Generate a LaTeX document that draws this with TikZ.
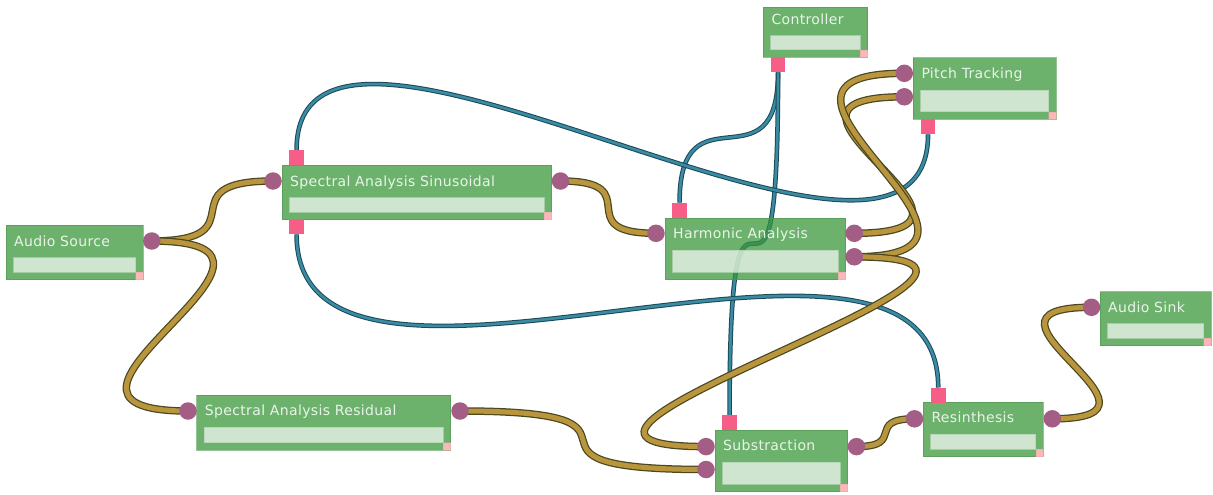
\documentclass[tikz,border=0pt]{standalone}
\usepackage{fontspec}
\newfontfamily\lblfont[LetterSpace=2.5]{DejaVu Sans}
\usetikzlibrary{calc}
\pgfdeclarelayer{bglayer}
\pgfdeclarelayer{wirelayer}
\pgfsetlayers{bglayer,wirelayer,main}
\definecolor{boxc}{RGB}{58,150,58}
\definecolor{boxedge}{RGB}{80,150,80}
\definecolor{baredge}{RGB}{180,212,180}
\definecolor{cornerc}{RGB}{250,184,184}
\definecolor{portc}{RGB}{164,94,133}
\definecolor{pinkc}{RGB}{246,94,135}
\definecolor{goldfill}{RGB}{185,150,62}
\definecolor{goldedge}{RGB}{75,72,32}
\definecolor{bluefill}{RGB}{58,140,165}
\definecolor{blueedge}{RGB}{28,72,86}
\definecolor{titlec}{RGB}{244,250,244}
\tikzset{
  gboxs/.style={rectangle, inner sep=0pt, outer sep=0pt, anchor=north west,
    fill=boxc, fill opacity=0.74, draw=boxedge, draw opacity=0.6, line width=0.8pt},
  barstyle/.style={fill=white, fill opacity=0.68, draw=baredge, draw opacity=0.8, line width=0.8pt},
  cornerstyle/.style={fill=cornerc, draw=cornerc!90!black, draw opacity=0.4, line width=0.5pt},
  titles/.style={font=\lblfont\fontsize{14}{16}\selectfont, text=titlec, text opacity=0.92, inner sep=0pt, anchor=base west},
  port/.style={circle, fill=portc, minimum size=17.5pt, inner sep=0pt, outer sep=0pt},
  cport/.style={rectangle, fill=pinkc, minimum width=14.5pt, minimum height=15pt, inner sep=0pt, outer sep=0pt, anchor=north west},
  goldwire/.style={draw=goldfill, line width=5pt, preaction={draw=goldedge, line width=7.5pt}},
  bluewire/.style={draw=bluefill, line width=2.6pt, preaction={draw=blueedge, line width=4.6pt}},
}
\newcommand\gbox[7]{%
  \node[gboxs, minimum width=#4pt, minimum height=#5pt] (#1) at (#2,#3) {};
  \path[barstyle] ($(#1.north west)+(7.5,#6)$) rectangle ($(#1.south east)+(-7.5,-7.5)$);
  \path[cornerstyle] ($(#1.south east)+(-7.5,-7.5)$) rectangle (#1.south east);
  \node[titles] (#1-t) at ($(#1.north west)+(8,#6-11.5)$) {#7};
}
\begin{document}
\begin{tikzpicture}[x=1pt,y=-1pt]
\useasboundingbox (0,0) rectangle (1213,495);
\begin{pgfonlayer}{bglayer}
\fill[white] (0,0) rectangle (1213,495);
\end{pgfonlayer}

% boxes
\gbox{as}{6}{225}{137}{54.5}{32.5}{Audio Source}
\gbox{sas}{282}{165}{269.5}{54.5}{32.5}{Spectral Analysis Sinusoidal}
\gbox{ha}{665}{218}{180.5}{61.5}{32}{Harmonic Analysis}
\gbox{ctl}{763.3}{7.3}{104.4}{50}{28.4}{Controller}
\gbox{pt}{913.3}{57.7}{142.7}{61.6}{32.3}{Pitch Tracking}
\gbox{snk}{1100}{291.7}{111}{54}{32}{Audio Sink}
\gbox{sar}{196.7}{395}{254}{55}{32}{Spectral Analysis Residual}
\gbox{sub}{715}{430}{132.7}{61.7}{32}{Substraction}
\gbox{rs}{923.3}{402.3}{120}{54.4}{32}{Resinthesis}

% control ports
\node[cport] (ctl-o) at (770.8,57.3) {};
\node[cport] (ha-c) at (672.3,202.7) {};
\node[cport] (pt-o) at (920.8,119.3) {};
\node[cport] (sas-ci) at (289.3,150) {};
\node[cport] (sas-co) at (289.3,219.3) {};
\node[cport] (sub-c) at (722.3,415) {};
\node[cport] (rs-c) at (931,387.5) {};

% signal ports
\node[port] (as-o) at (151.8,241) {};
\node[port] (sas-i) at (273,181) {};
\node[port] (sas-o) at (560.5,181) {};
\node[port] (ha-i) at (656,233.3) {};
\node[port] (ha-o1) at (854.3,233.3) {};
\node[port] (ha-o2) at (854.3,256.8) {};
\node[port] (pt-i1) at (904.3,73.3) {};
\node[port] (pt-i2) at (904.3,96.8) {};
\node[port] (snk-i) at (1091.5,307.3) {};
\node[port] (sar-i) at (188,411) {};
\node[port] (sar-o) at (460,411) {};
\node[port] (sub-i1) at (706,446.6) {};
\node[port] (sub-i2) at (706,469.5) {};
\node[port] (sub-o) at (856.5,446.6) {};
\node[port] (rs-i) at (914.5,418.8) {};
\node[port] (rs-o) at (1052.3,418.8) {};

\begin{pgfonlayer}{wirelayer}
% control wires
\draw[bluewire] (ctl-o.south) .. controls +(0,120) and +(0,-120) .. (ha-c.north);
\draw[bluewire] (ctl-o.south) .. controls +(0,343) and +(0,-343) .. (sub-c.north);
\draw[bluewire] (pt-o.south) .. controls +(0,222) and +(0,-222) .. (sas-ci.north);
\draw[bluewire] (sas-co.south) .. controls +(0,232) and +(0,-232) .. (rs-c.north);
% signal wires
\draw[goldwire] (as-o.center) .. controls +(110,0) and +(-110,0) .. (sas-i.center);
\draw[goldwire] (as-o.center) .. controls +(198,0) and +(-198,0) .. (sar-i.center);
\draw[goldwire] (sas-o.center) .. controls +(90,0) and +(-90,0) .. (ha-i.center);
\draw[goldwire] (ha-o1.center) .. controls +(180,0) and +(-180,0) .. (pt-i2.center);
\draw[goldwire] (ha-o2.center) .. controls +(198,0) and +(-198,0) .. (pt-i1.center);
\draw[goldwire] (ha-o2.center) .. controls +(262,0) and +(-262,0) .. (sub-i1.center);
\draw[goldwire] (sar-o.center) .. controls +(230,0) and +(-230,0) .. (sub-i2.center);
\draw[goldwire] (sub-o.center) .. controls +(50,0) and +(-50,0) .. (rs-i.center);
\draw[goldwire] (rs-o.center) .. controls +(145,0) and +(-145,0) .. (snk-i.center);
\end{pgfonlayer}
\end{tikzpicture}
\end{document}
